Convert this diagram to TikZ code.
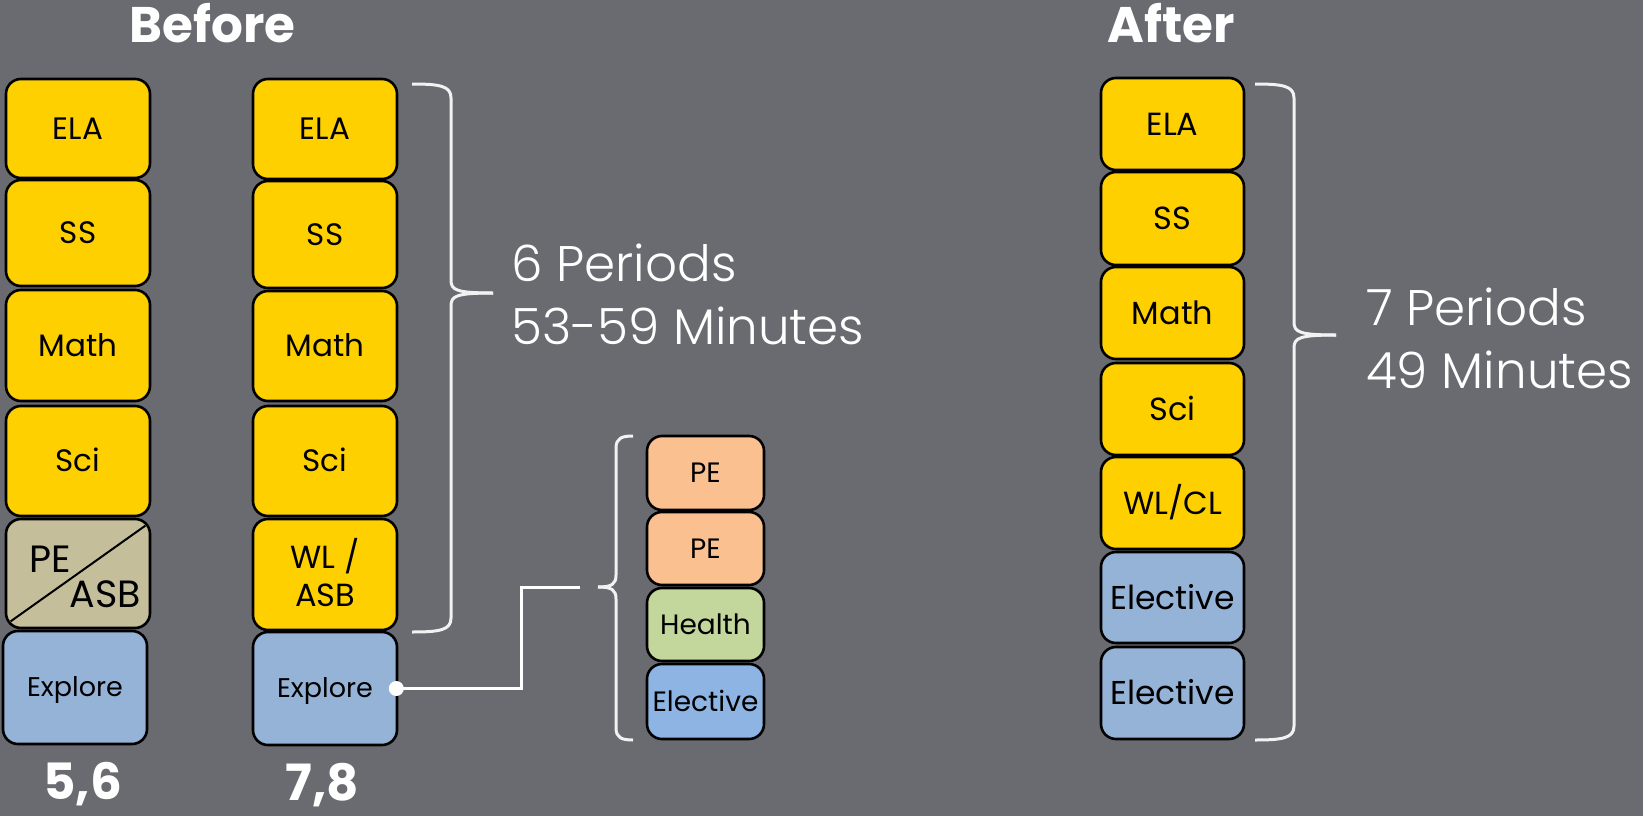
\documentclass[tikz,border=0pt]{standalone}
\usepackage{fontspec}
\setmainfont{Poppins}
\newfontfamily\lightfont{Poppins Light}
\usetikzlibrary{calc}
\definecolor{bg}{HTML}{696B70}
\definecolor{ylw}{HTML}{FFD000}
\definecolor{tan}{HTML}{C4BE9A}
\definecolor{blu}{HTML}{95B3D7}
\definecolor{blu2}{HTML}{8DB4E2}
\definecolor{org}{HTML}{FAC090}
\definecolor{grn}{HTML}{C3D69B}
\definecolor{brc}{HTML}{F2F2F2}
\begin{document}
\begin{tikzpicture}[x=1pt,y=-1pt,
  box/.style={draw=black, line width=2.6pt, rounded corners=15pt, inner sep=0pt,
    text=black, text depth=0pt, font=\fontsize{#1}{#1}\selectfont, text height=0.7*#1pt},
  lcol/.style={box=#1, minimum width=144pt},
  lcol/.default=31,
  rcol/.style={box=#1, minimum width=143pt},
  rcol/.default=32,
  scol/.style={box=28, minimum width=117pt},
  lbl/.style={inner sep=0pt, text=black},
  title/.style={inner sep=0pt, text=white, font=\fontsize{50}{56}\selectfont\bfseries},
  big/.style={inner sep=0pt, text=white, anchor=base west, font=\fontsize{50}{60}\selectfont\lightfont},
  brace/.style={draw=brc, line width=3pt},
  conn/.style={draw=white, line width=3pt}]
\fill[bg] (0,0) rectangle (1643,816);
\useasboundingbox (0,0) rectangle (1643,816);

% titles
\node[title, anchor=base] (tbefore) at (212.5,43) {Before};
\node[title, anchor=base] (tafter) at (1171,43) {After};

% left column (5,6)
\node[lcol, fill=ylw, minimum height=99pt] (lela) at (78,128.5) {ELA};
\node[lcol, fill=ylw, minimum height=106pt] (lss) at (78,233) {SS};
\node[lcol, fill=ylw, minimum height=111pt] (lmath) at (78,345.5) {Math};
\node[lcol, fill=ylw, minimum height=110pt] (lsci) at (78,461) {Sci};
\node[lcol, fill=tan, minimum height=109pt] (lpe) at (78,573.5) {};
\draw[black, line width=2pt] ($(lpe.south west)+(6,-8)$) -- ($(lpe.north east)+(-6,8)$);
\node[lbl, anchor=base west, font=\fontsize{38}{40}\selectfont] (lpet) at (29,572) {PE};
\node[lbl, anchor=base east, font=\fontsize{38}{40}\selectfont] (lasbt) at (141,607) {ASB};
\node[lcol=27, fill=blu, minimum height=113pt] (lexp) at (75,687.5) {Explore};
\node[title, anchor=base] (l56) at (82.5,799) {5,6};

% middle column (7,8)
\node[lcol, fill=ylw, minimum height=100pt] (mela) at (325,129) {ELA};
\node[lcol, fill=ylw, minimum height=107pt] (mss) at (325,234.5) {SS};
\node[lcol, fill=ylw, minimum height=110pt] (mmath) at (325,346) {Math};
\node[lcol, fill=ylw, minimum height=110pt] (msci) at (325,461) {Sci};
\node[lcol, fill=ylw, minimum height=111pt] (mwl) at (325,574.5) {};
\node[lbl, anchor=base, font=\fontsize{32}{36}\selectfont] (mwlt) at (325,568) {WL /};
\node[lbl, anchor=base, font=\fontsize{32}{36}\selectfont] (masbt) at (325,606) {ASB};
\node[lcol=27, fill=blu, minimum height=113pt] (mexp) at (325,688.5) {Explore};
\node[title, anchor=base] (l78) at (322.5,800) {7,8};

% big brace
\draw[brace] (412,84) .. controls (440,84) and (451,86) .. (451,98) -- (451,280)
  .. controls (451,290) and (456,293) .. (493,293);
\draw[brace] (493,293) .. controls (456,293) and (451,296) .. (451,306) -- (451,618)
  .. controls (451,630) and (440,632) .. (412,632);
\node[big] (p6) at (511,281) {6 Periods};
\node[big] (m6) at (511,344) {53-59 Minutes};

% small column
\node[scol, fill=org, minimum height=74pt] (spe1) at (705.5,473) {PE};
\node[scol, fill=org, minimum height=73pt] (spe2) at (705.5,548.5) {PE};
\node[scol, fill=grn, minimum height=73pt] (shl) at (705.5,624.5) {Health};
\node[scol, fill=blu2, minimum height=75pt] (sel) at (705.5,701.5) {Elective};

% small brace
\draw[brace] (633,436) .. controls (622,436) and (616,438) .. (616,448) -- (616,575)
  .. controls (616,584) and (612,587) .. (598,587);
\draw[brace] (598,587) .. controls (612,587) and (616,590) .. (616,599) -- (616,728)
  .. controls (616,738) and (622,740) .. (633,740);

% connector
\coordinate (sbtip) at (580,587);
\coordinate (jog) at (521,587);
\node[circle, fill=white, inner sep=0pt, minimum size=15pt] (dot) at ($(mexp.east)+(-2,0)$) {};
\draw[conn] (dot.center) -| (jog) -- (sbtip);

% right column
\node[rcol, fill=ylw, minimum height=92pt] (rela) at (1172.5,124) {ELA};
\node[rcol, fill=ylw, minimum height=93pt] (rss) at (1172.5,218.5) {SS};
\node[rcol, fill=ylw, minimum height=92pt] (rmath) at (1172.5,313) {Math};
\node[rcol, fill=ylw, minimum height=92pt] (rsci) at (1172.5,409) {Sci};
\node[rcol, fill=ylw, minimum height=92pt] (rwl) at (1172.5,503) {WL/CL};
\node[rcol=33, fill=blu, minimum height=91pt] (rel1) at (1172.5,597.5) {Elective};
\node[rcol=33, fill=blu, minimum height=92pt] (rel2) at (1172.5,693) {Elective};

% right brace
\draw[brace] (1255,84) .. controls (1283,84) and (1294,86) .. (1294,98) -- (1294,322)
  .. controls (1294,332) and (1299,335) .. (1336,335);
\draw[brace] (1336,335) .. controls (1299,335) and (1294,338) .. (1294,348) -- (1294,726)
  .. controls (1294,738) and (1283,740) .. (1255,740);
\node[big] (p7) at (1366,325) {7 Periods};
\node[big] (m7) at (1366,388) {49 Minutes};
\end{tikzpicture}
\end{document}
